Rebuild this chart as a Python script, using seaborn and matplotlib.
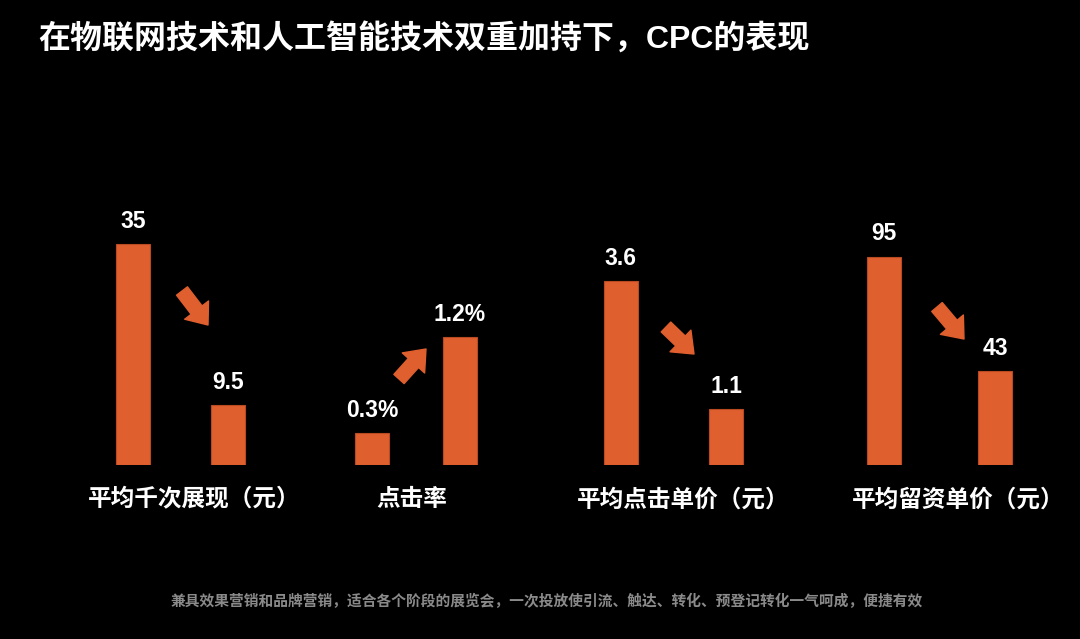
import matplotlib
matplotlib.use('Agg')
import matplotlib.pyplot as plt
from matplotlib.patches import FancyArrowPatch
import seaborn as sns
import pandas as pd

# data
categories = ['平均千次展现（元）', '点击率', '平均点击单价（元）', '平均留资单价（元）']
before = [35, 0.3, 3.6, 95]
after = [9.5, 1.2, 1.1, 43]
suffix = ['', '%', '', '']
title = '在物联网技术和人工智能技术双重加持下，CPC的表现'
footer = '兼具效果营销和品牌营销，适合各个阶段的展览会，一次投放使引流、触达、转化、预登记转化一气呵成，便捷有效'

# layout (pixels in a 1080x639 canvas)
W, H = 1080, 639
bar_centers = [(133, 228), (372, 460), (620.7, 726), (883.7, 995)]
tallest_px = [220.6, 128, 184.3, 208.4]
baseline = 465
ax_h = 300
bar_px = 34
label_x = [194, 411.5, 683, 958]
arrows = [((182, 291), (208, 325)), ((399, 379), (426, 349)),
          ((666, 327), (694, 354)), ((937, 307), (964, 339))]

bar_color = '#DF5F2E'
cjk = ['Liberation Sans', 'Noto Sans CJK SC', 'DejaVu Sans']

sns.set_theme(style='dark')
plt.rcParams['font.family'] = cjk

fig = plt.figure(figsize=(10.8, 6.39), dpi=100, facecolor='black')

for i in range(len(categories)):
    c0, c1 = bar_centers[i]
    gap = c1 - c0
    left = c0 - 0.5 * gap
    ax = fig.add_axes([left / W, 1 - baseline / H, 2 * gap / W, ax_h / H])
    df = pd.DataFrame({'stage': ['before', 'after'], 'value': [before[i], after[i]]})
    sns.barplot(data=df, x='stage', y='value', ax=ax, color=bar_color,
                saturation=1, width=bar_px / gap, edgecolor='#B94A22', linewidth=0.8)
    vmax = max(before[i], after[i])
    ax.set_ylim(0, vmax * ax_h / tallest_px[i])
    ax.set_xlim(-0.5, 1.5)
    ax.bar_label(ax.containers[0], labels=[f'{v:g}{suffix[i]}' for v in df['value']],
                 padding=8, color='white', fontsize=16.5, fontweight='bold')
    ax.set_facecolor('none')
    ax.axis('off')

    fig.text(label_x[i] / W, 1 - 500 / H, categories[i], ha='center', va='center',
             color='white', fontsize=17, fontweight='bold', family=cjk)

for (x0, y0), (x1, y1) in arrows:
    arr = FancyArrowPatch((x0 / W, 1 - y0 / H), (x1 / W, 1 - y1 / H), transform=fig.transFigure,
                          arrowstyle='simple,head_length=0.75,head_width=1.2,tail_width=0.55',
                          mutation_scale=18, color=bar_color, shrinkA=0, shrinkB=0)
    fig.add_artist(arr)

fig.text(38 / W, 1 - 40 / H, title, ha='left', va='center', color='white',
         fontsize=23, fontweight='bold', family=cjk)
fig.text(170 / W, 1 - 601 / H, footer, ha='left', va='center', color='#8A8A8A',
         fontsize=10.6, fontweight='bold', family=cjk)

fig.savefig('out.png', dpi=100, facecolor='black')
